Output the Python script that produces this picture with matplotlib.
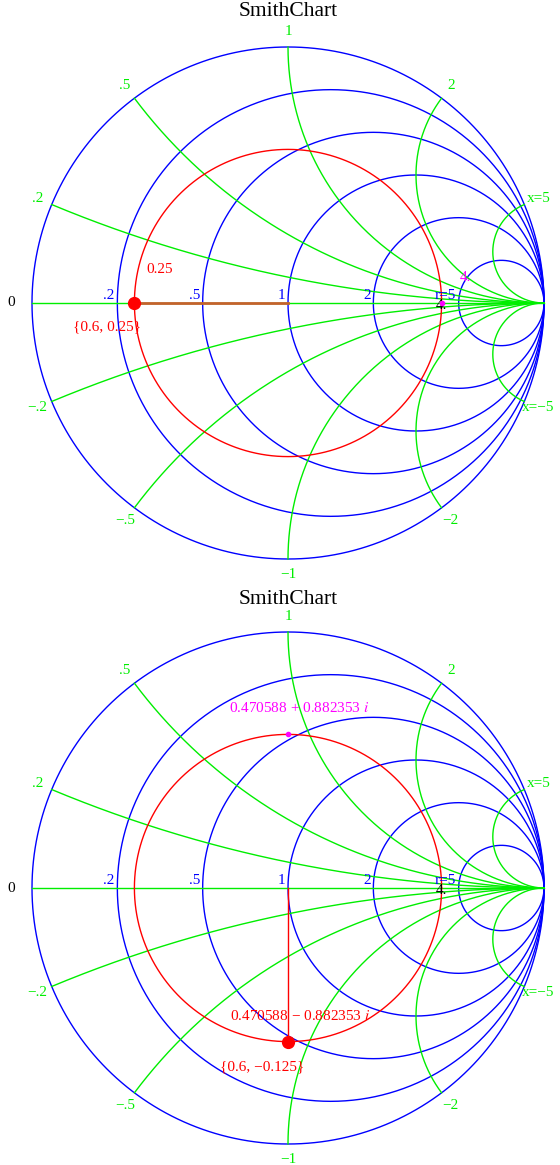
import numpy as np
import matplotlib.pyplot as plt

plt.rcParams['font.family'] = ['Liberation Serif', 'DejaVu Serif']
plt.rcParams['mathtext.fontset'] = 'stix'

# chart grid values
r_values = [0, 0.2, 0.5, 1, 2, 5]
r_labels = ['', '.2', '.5', '1', '2', 'r=5']
x_values = [0.2, 0.5, 1, 2, 5]
x_pos_labels = ['.2', '.5', '1', '2', 'x=5']
x_neg_labels = ['\u2212.2', '\u2212.5', '\u22121', '\u22122', 'x=\u22125']

# top chart: point on |G|=0.6 circle
top_gamma = -0.6 + 0j
top_mirror = 0.6 + 0j
top_z_label = '0.25'
top_pair_label = '{0.6, 0.25}'
top_mirror_label = '4.'

# bottom chart
bot_gamma = -0.6j
bot_mirror = 0.6j
bot_z_label = '0.470588 \u2212 0.882353 $i$'
bot_pair_label = '{0.6, \u22120.125}'
bot_mirror_label = '0.470588 + 0.882353 $i$'

BLUE = '#0000ff'
GREEN = '#00ee00'
RED = '#ff0000'
MAG = '#ff00ff'
FS = 11


def gamma(z):
    return (z - 1) / (z + 1)


def draw_grid(ax):
    t = np.linspace(0, 2 * np.pi, 721)
    for r, lab in zip(r_values, r_labels):
        c = r / (1 + r)
        rad = 1 / (1 + r)
        ax.plot(c + rad * np.cos(t), rad * np.sin(t), color=BLUE, lw=1)
        if lab:
            ax.text(c - rad - 0.01, 0.005, lab, color=BLUE, fontsize=FS,
                    ha='right', va='bottom')
    rr = np.concatenate([[0], np.logspace(-3, 4, 600)])
    ax.plot([-1, 1], [0, 0], color=GREEN, lw=1)
    for x, lp, ln in zip(x_values, x_pos_labels, x_neg_labels):
        for sgn, lab in ((1, lp), (-1, ln)):
            g = gamma(rr + 1j * sgn * x)
            ax.plot(g.real, g.imag, color=GREEN, lw=1)
            e = g[0] * 1.06
            ax.text(e.real, e.imag, lab, color=GREEN, fontsize=FS,
                    ha='center', va='center')
    ax.text(-1.08, 0, '0', color='black', fontsize=FS, ha='center', va='center')
    ax.plot(0.6 * np.cos(t), 0.6 * np.sin(t), color=RED, lw=1)


fig = plt.figure(figsize=(5.6, 11.65), dpi=100)

# top chart
ax1 = fig.add_axes([0, 583 / 1165, 1, 582 / 1165])
ax1.set_xlim(-288 / 256, 272 / 256)
ax1.set_ylim(-279 / 256, 303 / 256)
ax1.axis('off')
draw_grid(ax1)
ax1.plot([top_gamma.real, 0], [0, 0], color='#c4622c', lw=2, zorder=3)
ax1.plot(top_gamma.real, top_gamma.imag, 'o', color=RED, ms=8.5, zorder=4)
ax1.plot(top_mirror.real, top_mirror.imag, 'o', color=MAG, ms=3, zorder=4)
ax1.text(-0.5, 0.129, top_z_label, color=RED, fontsize=FS, ha='center', va='center')
ax1.text(-0.707, -0.094, top_pair_label, color=RED, fontsize=FS, ha='center', va='center')
ax1.text(0.695, 0.098, top_mirror_label, color=MAG, fontsize=FS, ha='center', va='center')
ax1.text(0.598, -0.008, '4.', color='black', fontsize=FS, ha='center', va='center')
ax1.text(0, 1.137, 'SmithChart', fontsize=15.5, ha='center', va='center')

# bottom chart
ax2 = fig.add_axes([0, 0, 1, 583 / 1165])
ax2.set_xlim(-288 / 256, 272 / 256)
ax2.set_ylim(-277 / 256, 306 / 256)
ax2.axis('off')
draw_grid(ax2)
ax2.plot([0, bot_gamma.real], [0, bot_gamma.imag], color=RED, lw=1, zorder=3)
ax2.plot(bot_gamma.real, bot_gamma.imag, 'o', color=RED, ms=8.5, zorder=4)
ax2.plot(bot_mirror.real, bot_mirror.imag, 'o', color=MAG, ms=3, zorder=4)
ax2.text(0.047, -0.5, bot_z_label, color=RED, fontsize=FS, ha='center', va='center')
ax2.text(-0.1, -0.70, bot_pair_label, color=RED, fontsize=FS, ha='center', va='center')
ax2.text(0.043, 0.703, bot_mirror_label, color=MAG, fontsize=FS, ha='center', va='center')
ax2.text(0.598, -0.008, '4.', color='black', fontsize=FS, ha='center', va='center')
ax2.text(0, 1.125, 'SmithChart', fontsize=15.5, ha='center', va='center')

fig.savefig('out.png', dpi=100)
